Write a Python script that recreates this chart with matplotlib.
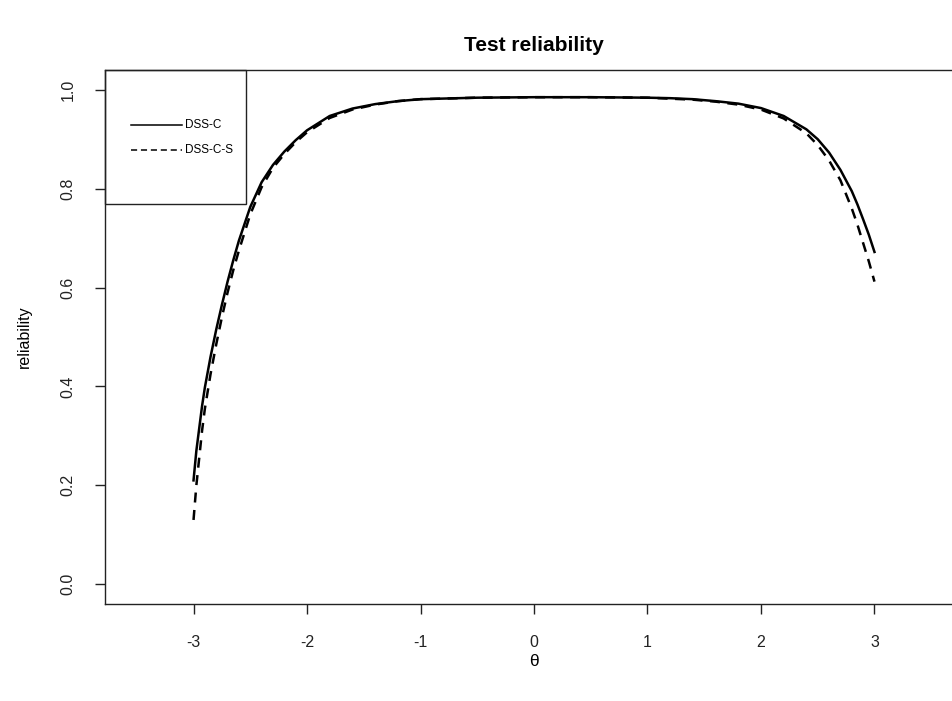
import matplotlib
matplotlib.use("Agg")
import matplotlib.pyplot as plt
from matplotlib.patches import Rectangle

plt.rcParams['font.family'] = ['Liberation Sans', 'DejaVu Sans']

# theta grid and reliability curves
theta = [-3.0, -2.975, -2.95, -2.925, -2.9, -2.85, -2.8, -2.75, -2.7, -2.65,
         -2.6, -2.5, -2.4, -2.3, -2.2, -2.1, -2.0, -1.8, -1.6, -1.4, -1.2,
         -1.0, -0.5, 0.0, 0.5, 1.0, 1.2, 1.4, 1.6, 1.8, 2.0, 2.2, 2.4, 2.5,
         2.6, 2.7, 2.8, 2.85, 2.9, 2.95, 3.0]
rel_dssc = [0.21, 0.27, 0.315, 0.36, 0.398, 0.46, 0.515, 0.565, 0.612, 0.655,
            0.695, 0.763, 0.813, 0.848, 0.875, 0.898, 0.918, 0.947, 0.962,
            0.971, 0.977, 0.981, 0.984, 0.985, 0.985, 0.984, 0.983, 0.981,
            0.977, 0.972, 0.963, 0.947, 0.920, 0.900, 0.873, 0.838, 0.795,
            0.768, 0.738, 0.707, 0.672]
rel_dsscs = [0.13, 0.20, 0.255, 0.31, 0.355, 0.425, 0.485, 0.54, 0.59, 0.635,
             0.675, 0.748, 0.803, 0.842, 0.870, 0.894, 0.914, 0.943, 0.960,
             0.970, 0.977, 0.981, 0.984, 0.985, 0.985, 0.984, 0.982, 0.980,
             0.976, 0.970, 0.960, 0.942, 0.912, 0.888, 0.857, 0.817, 0.760,
             0.727, 0.690, 0.653, 0.612]
labels = ['DSS-C', 'DSS-C-S']
xticks = [-3, -2, -1, 0, 1, 2, 3]
yticks = [0.0, 0.2, 0.4, 0.6, 0.8, 1.0]

fig = plt.figure(figsize=(9.52, 7.01), dpi=100)
ax = fig.add_axes([105/952, 97/701, 858/952, 534/701])

ax.plot(theta, rel_dssc, color='black', lw=1.8, solid_joinstyle='round')
ax.plot(theta, rel_dsscs, color='black', lw=1.8, dashes=(4, 3))

ax.set_xlim(-3.78, 3.78)
ax.set_ylim(-0.04, 1.04)
ax.set_xticks(xticks)
ax.set_xticklabels([str(v) for v in xticks])
ax.set_yticks(yticks)
ax.set_yticklabels(['%.1f' % v for v in yticks], rotation=90, va='center')
ax.tick_params(axis='both', direction='out', length=7, width=1,
               labelsize=11.5, colors='#222222')
ax.tick_params(axis='x', pad=15)
ax.tick_params(axis='y', pad=14)
for s in ax.spines.values():
    s.set_linewidth(1)
    s.set_color('#222222')

ax.set_title('Test reliability', fontsize=15, fontweight='bold', pad=14)
ax.set_xlabel('θ', fontsize=12.5, labelpad=3)
ax.set_ylabel('reliability', fontsize=11.5, labelpad=21)

# legend box in the top-left corner, drawn like R's legend()
ax.add_patch(Rectangle((0, 0.749), 0.1643, 0.251, transform=ax.transAxes,
                       fill=False, edgecolor='#222222', lw=1, clip_on=False))
ax.plot([0.0303, 0.0897], [0.897, 0.897], transform=ax.transAxes,
        color='black', lw=1.1)
ax.plot([0.0303, 0.0897], [0.850, 0.850], transform=ax.transAxes,
        color='black', lw=1.1, dashes=(4, 2.5))
ax.text(0.093, 0.897, labels[0], transform=ax.transAxes, fontsize=8.5,
        va='center', ha='left')
ax.text(0.093, 0.850, labels[1], transform=ax.transAxes, fontsize=8.5,
        va='center', ha='left')

fig.savefig('out.png', dpi=100)
